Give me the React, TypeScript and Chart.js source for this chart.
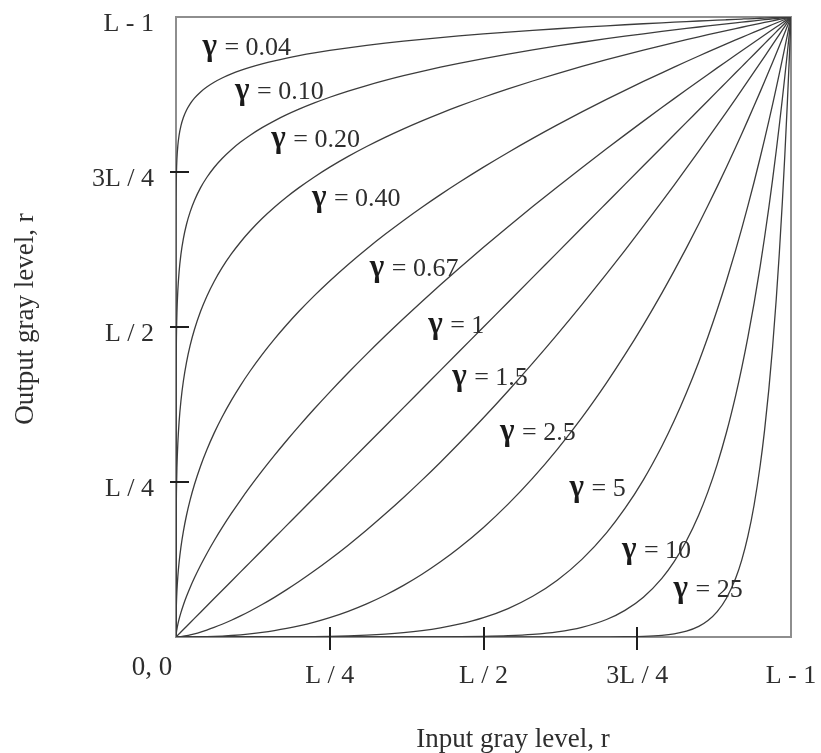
import React, { useEffect, useRef } from 'react';
import { Chart, registerables } from 'chart.js';

Chart.register(...registerables);

// Power-law (gamma) transformation curves: s = r^γ on normalised gray levels.
const gammas = [0.04, 0.1, 0.2, 0.4, 0.67, 1, 1.5, 2.5, 5, 10, 25];
const gammaLabels = ['0.04', '0.10', '0.20', '0.40', '0.67', '1', '1.5', '2.5', '5', '10', '25'];

// Normalised input levels sampled along each curve (denser near the ends,
// where the extreme gammas bend sharply).
const inputLevels = [
  0, 0.000001, 0.00001, 0.0001, 0.0003, 0.0007, 0.0015, 0.003, 0.005, 0.008,
  0.012, 0.017, 0.023, 0.03, 0.04, 0.05, 0.062, 0.075, 0.09, 0.105, 0.12, 0.14,
  0.16, 0.18, 0.2, 0.225, 0.25, 0.28, 0.31, 0.34, 0.37, 0.4, 0.43, 0.46, 0.5,
  0.54, 0.58, 0.62, 0.66, 0.7, 0.73, 0.76, 0.79, 0.81, 0.83, 0.85, 0.865, 0.88,
  0.895, 0.91, 0.92, 0.93, 0.94, 0.95, 0.957, 0.964, 0.97, 0.976, 0.981, 0.986,
  0.99, 0.994, 0.997, 1,
];

// Axis ticks (fractions of L - 1) and their labels.
const levelTicks = [0, 0.25, 0.5, 0.75, 1];
const levelTickLabels = ['', 'L / 4', 'L / 2', '3L / 4', 'L - 1'];
const originLabel = '0, 0';
const xTitle = 'Input gray level, r';
const yTitle = 'Output gray level, r';

// Where each curve's γ label sits, in data units (left edge, text baseline).
const labelAnchorX = [0.043, 0.096, 0.155, 0.221, 0.315, 0.41, 0.449, 0.527, 0.64, 0.725, 0.809];
const labelAnchorY = [0.938, 0.867, 0.791, 0.695, 0.582, 0.49, 0.406, 0.318, 0.227, 0.127, 0.064];

const SERIF = "'Liberation Serif', 'Times New Roman', 'DejaVu Serif', serif";
const TEXT = '#2e2e2e';
const CURVE = '#3c3c3c';

const decorations = {
  id: 'gammaDecorations',
  beforeDatasetsDraw(chart: any) {
    const { ctx, chartArea } = chart;
    ctx.save();
    ctx.strokeStyle = '#8e8e8e';
    ctx.lineWidth = 2;
    ctx.strokeRect(chartArea.left, chartArea.top, chartArea.right - chartArea.left, chartArea.bottom - chartArea.top);
    ctx.restore();
  },
  afterDatasetsDraw(chart: any) {
    const { ctx, chartArea, scales } = chart;
    const xs = scales.x;
    const ys = scales.y;
    ctx.save();

    // tick marks crossing the axes
    ctx.strokeStyle = '#1e1e1e';
    ctx.lineWidth = 2;
    levelTicks.forEach((v) => {
      if (v <= 0 || v >= 1) return;
      const py = Math.round(ys.getPixelForValue(v));
      ctx.beginPath();
      ctx.moveTo(chartArea.left - 6, py);
      ctx.lineTo(chartArea.left + 13, py);
      ctx.stroke();
      const px = Math.round(xs.getPixelForValue(v));
      ctx.beginPath();
      ctx.moveTo(px, chartArea.bottom - 10);
      ctx.lineTo(px, chartArea.bottom + 13);
      ctx.stroke();
    });

    // origin label
    ctx.fillStyle = TEXT;
    ctx.font = `27px ${SERIF}`;
    ctx.textAlign = 'center';
    ctx.textBaseline = 'middle';
    ctx.fillText(originLabel, xs.getPixelForValue(0) - 24, chartArea.bottom + 31);

    // axis titles
    ctx.textBaseline = 'alphabetic';
    ctx.fillText(xTitle, 513, 747);
    ctx.save();
    ctx.translate(33, 319);
    ctx.rotate(-Math.PI / 2);
    ctx.fillText(yTitle, 0, 0);
    ctx.restore();

    // gamma labels
    ctx.textAlign = 'left';
    gammaLabels.forEach((lbl, i) => {
      const px = xs.getPixelForValue(labelAnchorX[i]);
      const py = ys.getPixelForValue(labelAnchorY[i]);
      ctx.font = `bold 31px ${SERIF}`;
      ctx.fillStyle = '#1a1a1a';
      ctx.fillText('\u03b3', px, py);
      const w = ctx.measureText('\u03b3').width;
      ctx.font = `26px ${SERIF}`;
      ctx.fillStyle = TEXT;
      ctx.fillText(' = ' + lbl, px + w + 1, py);
    });
    ctx.restore();
  },
};

export default function App() {
  const canvasRef = useRef<HTMLCanvasElement | null>(null);

  useEffect(() => {
    const canvas = canvasRef.current;
    if (!canvas) return;
    const datasets = gammas.map((g, i) => ({
      label: 'γ = ' + gammaLabels[i],
      data: inputLevels.map((r) => ({ x: r, y: Math.pow(r, g) })),
      borderColor: CURVE,
      borderWidth: 1.3,
      pointRadius: 0,
      fill: false,
      cubicInterpolationMode: 'monotone' as const,
    }));

    const tickFont = { family: SERIF, size: 26 };

    const chart = new Chart(canvas, {
      type: 'line',
      data: { datasets },
      options: {
        animation: false,
        responsive: false,
        devicePixelRatio: 1,
        layout: { padding: { top: 17, right: 30, left: 0, bottom: 0 } },
        plugins: {
          legend: { display: false },
          tooltip: { enabled: false },
        },
        scales: {
          x: {
            type: 'linear',
            min: 0,
            max: 1,
            afterBuildTicks: (s: any) => {
              s.ticks = levelTicks.map((v) => ({ value: v }));
            },
            afterFit: (s: any) => {
              s.height = 116;
              s.paddingLeft = 0;
              s.paddingRight = 0;
            },
            ticks: {
              callback: (v: any) => levelTickLabels[levelTicks.indexOf(Number(v))],
              font: tickFont,
              color: TEXT,
              padding: 24,
              maxRotation: 0,
              autoSkip: false,
            },
            grid: { display: false, drawTicks: false },
            border: { display: false },
          },
          y: {
            type: 'linear',
            min: 0,
            max: 1,
            afterBuildTicks: (s: any) => {
              s.ticks = levelTicks.map((v) => ({ value: v }));
            },
            afterFit: (s: any) => {
              s.width = 176;
              s.paddingTop = 0;
              s.paddingBottom = 0;
            },
            ticks: {
              callback: (v: any) => levelTickLabels[levelTicks.indexOf(Number(v))],
              font: tickFont,
              color: TEXT,
              padding: 22,
              labelOffset: 7,
              autoSkip: false,
            },
            grid: { display: false, drawTicks: false },
            border: { display: false },
          },
        },
      },
      plugins: [decorations],
    });
    return () => chart.destroy();
  }, []);

  return (
    <div style={{ position: 'absolute', left: 0, top: 0, width: 821, height: 753, background: '#fff' }}>
      <canvas ref={canvasRef} width={821} height={753} style={{ width: 821, height: 753, display: 'block' }} />
    </div>
  );
}
